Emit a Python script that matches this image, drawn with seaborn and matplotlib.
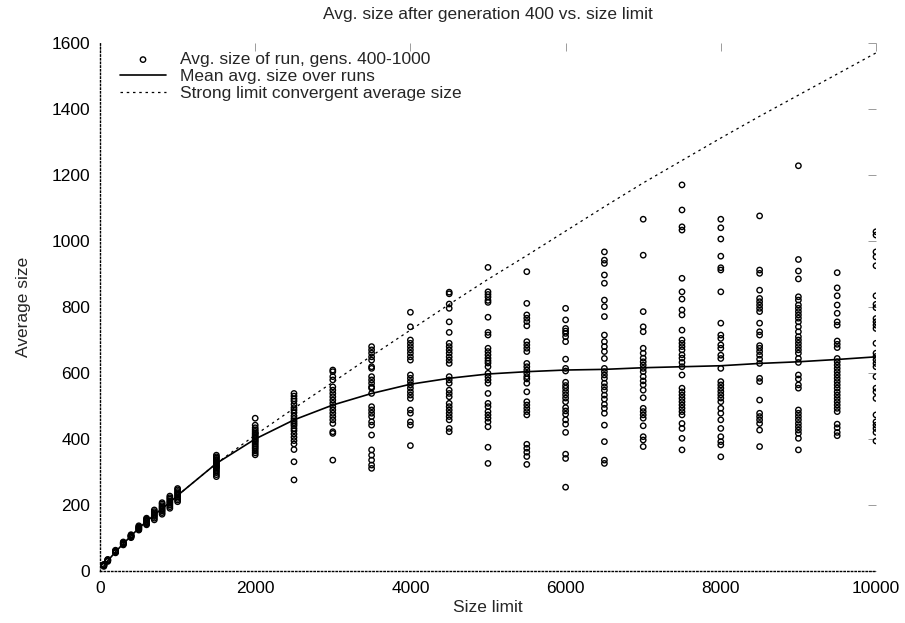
import numpy as np
import pandas as pd
import seaborn as sns
import matplotlib

matplotlib.use("Agg")
import matplotlib.pyplot as plt

# size limits (one column of runs per limit)
limits = [50, 100, 200, 300, 400, 500, 600, 700, 800, 900, 1000,
          1500, 2000, 2500, 3000, 3500, 4000, 4500, 5000, 5500,
          6000, 6500, 7000, 7500, 8000, 8500, 9000, 9500, 10000]

# avg. size of each run, gens. 400-1000
runs_50 = [14, 16, 17, 18, 19, 20]
runs_100 = [29, 31, 32, 33, 34, 35]
runs_200 = [55, 57, 58, 59, 60, 61, 63]
runs_300 = [79, 81, 82, 84, 85, 86, 88]
runs_400 = [101, 103, 105, 106, 107, 108, 110]
runs_500 = [124, 126, 128, 130, 132, 134, 137]
runs_600 = [140, 143, 146, 149, 151, 154, 157, 160]
runs_700 = [155, 160, 165, 168, 172, 176, 180, 185]
runs_800 = [172, 177, 182, 186, 190, 194, 198, 203, 207]
runs_900 = [190, 195, 200, 205, 209, 213, 218, 222, 227]
runs_1000 = [210, 215, 220, 225, 229, 233, 237, 241, 246, 250]
runs_1500 = [286, 292, 298, 303, 308, 312, 315, 318, 321, 324, 327, 330,
             334, 338, 342, 346, 351]
runs_2000 = [352, 358, 364, 370, 375, 380, 385, 390, 394, 398, 402, 406,
             410, 414, 418, 423, 428, 434, 442, 463]
runs_2500 = [276, 331, 368, 385, 395, 405, 415, 425, 432, 440, 445, 450,
             455, 462, 470, 480, 488, 495, 505, 515, 522, 530, 538]
runs_3000 = [336, 417, 422, 447, 458, 468, 478, 488, 498, 508, 518, 528,
             538, 548, 558, 579, 589, 604, 609]
runs_3500 = [311, 321, 336, 351, 367, 412, 442, 452, 468, 478, 488, 498,
             538, 554, 558, 569, 579, 589, 614, 619, 639, 649, 660, 670, 680]
runs_4000 = [380, 442, 452, 478, 488, 523, 533, 543, 554, 564, 574, 584,
             594, 639, 649, 660, 670, 680, 690, 700, 740, 784]
runs_4500 = [422, 432, 458, 468, 478, 488, 498, 508, 528, 538, 548, 569,
             579, 589, 629, 639, 649, 660, 670, 680, 690, 723, 755, 796,
             809, 840, 845]
runs_5000 = [326, 375, 437, 452, 463, 473, 483, 498, 508, 538, 569, 579,
             589, 599, 619, 630, 637, 645, 655, 665, 675, 715, 723, 769,
             814, 820, 830, 838, 846, 920]
runs_5500 = [323, 347, 360, 372, 384, 473, 483, 493, 503, 513, 543, 569,
             582, 589, 599, 609, 619, 629, 665, 675, 685, 695, 743, 756,
             766, 776, 811, 907]
runs_6000 = [254, 341, 354, 420, 445, 458, 475, 485, 495, 513, 524, 534,
             544, 554, 562, 572, 606, 614, 642, 695, 710, 720, 727, 735,
             761, 796]
runs_6500 = [326, 336, 392, 442, 478, 493, 505, 521, 533, 548, 558, 569,
             584, 594, 604, 614, 644, 665, 680, 695, 715, 771, 801, 821,
             872, 897, 932, 942, 967]
runs_7000 = [377, 397, 407, 440, 463, 473, 483, 493, 525, 548, 564, 576,
             589, 604, 614, 624, 634, 645, 660, 675, 725, 740, 786, 957, 1066]
runs_7500 = [367, 402, 432, 447, 473, 483, 493, 503, 513, 523, 533, 543,
             554, 594, 619, 632, 645, 655, 670, 680, 690, 700, 730, 776,
             791, 824, 846, 887, 1033, 1043, 1094, 1170]
runs_8000 = [346, 382, 392, 407, 432, 458, 478, 493, 513, 524, 534, 544,
             554, 564, 574, 614, 644, 654, 675, 685, 705, 715, 751, 846,
             912, 919, 954, 1006, 1040, 1066]
runs_8500 = [377, 427, 447, 458, 468, 478, 518, 574, 584, 629, 642, 654,
             665, 675, 683, 715, 725, 751, 786, 796, 806, 816, 826, 851,
             902, 912, 1076]
runs_9000 = [367, 402, 417, 427, 437, 447, 458, 468, 478, 488, 554, 564,
             582, 594, 632, 644, 660, 670, 680, 690, 700, 710, 725, 740,
             755, 766, 776, 786, 796, 806, 821, 831, 885, 909, 944, 1228]
runs_9500 = [410, 420, 434, 445, 483, 493, 503, 513, 523, 533, 543, 554,
             564, 574, 584, 594, 604, 614, 624, 634, 644, 677, 687, 697,
             745, 755, 781, 806, 834, 858, 904]
runs_10000 = [394, 420, 432, 442, 452, 473, 523, 543, 554, 589, 619, 629,
              640, 650, 660, 690, 735, 745, 755, 765, 798, 808, 834, 925,
              952, 967, 1018, 1028]

runs = [runs_50, runs_100, runs_200, runs_300, runs_400, runs_500, runs_600,
        runs_700, runs_800, runs_900, runs_1000, runs_1500, runs_2000,
        runs_2500, runs_3000, runs_3500, runs_4000, runs_4500, runs_5000,
        runs_5500, runs_6000, runs_6500, runs_7000, runs_7500, runs_8000,
        runs_8500, runs_9000, runs_9500, runs_10000]

# mean avg. size over runs
mean_size = [15, 31, 58, 83, 106, 130, 150, 170, 189, 208, 229, 326, 400,
             458, 503, 538, 566, 584, 597, 604, 609, 611, 616, 619, 622,
             629, 634, 641, 649]

# strong limit convergent average size
strong_limits = [1000, 1500, 2000, 2500, 3000, 3500, 4000, 4500, 5000,
                 5500, 6000, 6500, 7000, 7500, 8000, 8500, 9000, 9500, 10000]
strong_size = [229, 326, 412, 493, 572, 652, 730, 808, 884, 956, 1030,
               1104, 1176, 1244, 1312, 1378, 1442, 1506, 1570]

scatter_df = pd.DataFrame({
    "Size limit": np.repeat(limits, [len(r) for r in runs]),
    "Average size": np.concatenate(runs),
})

FS = 12.5

sns.set_style("white")
plt.rcParams["font.family"] = ["Liberation Sans", "DejaVu Sans"]
plt.rcParams["font.size"] = FS

fig, ax = plt.subplots(figsize=(9.05, 6.23), dpi=100)
fig.subplots_adjust(left=100 / 905, right=876 / 905,
                    bottom=1 - 571 / 623, top=1 - 43 / 623)

sns.scatterplot(data=scatter_df, x="Size limit", y="Average size",
                marker="o", s=15, facecolor="none", edgecolor="black",
                linewidth=1.0, label="Avg. size of run, gens. 400-1000",
                ax=ax, zorder=3)
sns.lineplot(x=limits, y=mean_size, color="black", linewidth=1.2,
             label="Mean avg. size over runs", ax=ax, zorder=4)
sns.lineplot(x=strong_limits, y=strong_size, color="black", linewidth=0.9,
             linestyle=(0, (2, 3)),
             label="Strong limit convergent average size", ax=ax, zorder=2)

ax.set_xlim(0, 10000)
ax.set_ylim(0, 1600)
ax.set_xticks(range(0, 10001, 2000))
ax.set_yticks(range(0, 1601, 200))

for side in ["top", "right"]:
    ax.spines[side].set_visible(False)
for side in ["left", "bottom"]:
    ax.spines[side].set_linestyle(":")
    ax.spines[side].set_color("black")
    ax.spines[side].set_linewidth(1.0)

ax.tick_params(direction="in", length=6, width=0.6, color="0.55",
               top=True, right=True, labelsize=FS, pad=7,
               labelcolor="black")

ax.set_title("Avg. size after generation 400 vs. size limit",
             fontsize=FS, pad=17)
ax.set_xlabel("Size limit", fontsize=FS, labelpad=3)
ax.set_ylabel("Average size", fontsize=FS, labelpad=15)

ax.legend(loc="upper left", bbox_to_anchor=(120 / 905, 1 - 52 / 623),
          bbox_transform=fig.transFigure, frameon=False, borderpad=0,
          borderaxespad=0, handlelength=2.65, handletextpad=0.8,
          labelspacing=0.1, fontsize=FS, markerscale=1.0)

fig.savefig("out.png", dpi=100)
